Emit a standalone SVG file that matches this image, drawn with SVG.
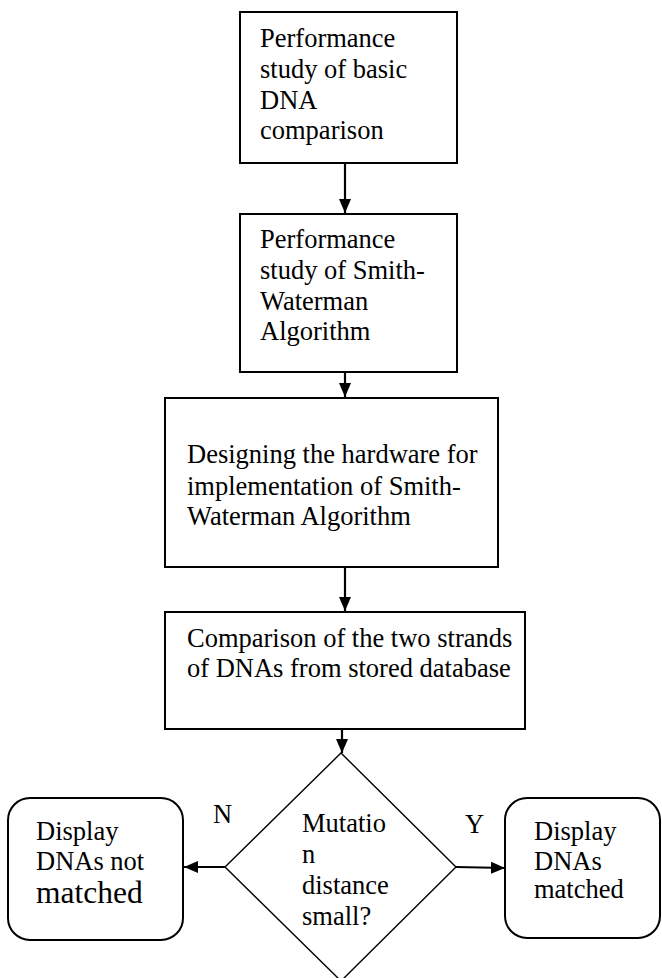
<svg xmlns="http://www.w3.org/2000/svg" width="662" height="978" viewBox="0 0 662 978" font-family="'Liberation Serif', 'Times New Roman', serif">
<defs>
<marker id="ah" markerWidth="14" markerHeight="12" refX="14" refY="6" orient="auto" markerUnits="userSpaceOnUse">
<path d="M0,0 L14,6 L0,12 Z" fill="#000"/>
</marker>
<style>
.box{fill:#fff;stroke:#000;stroke-width:2}
.dia{fill:#fff;stroke:#000;stroke-width:1.4}
.t{font-size:26.5px;fill:#000}
.big{font-size:31.5px}
.c{stroke:#000;stroke-width:2.2;fill:none}
</style>
</defs>
<rect width="662" height="978" fill="#fff"/>
<g id="connectors">
<line class="c" x1="345" y1="164" x2="345" y2="213" marker-end="url(#ah)"/>
<line class="c" x1="345" y1="373" x2="345" y2="397" marker-end="url(#ah)"/>
<line class="c" x1="345" y1="568" x2="345" y2="611" marker-end="url(#ah)"/>
<line class="c" x1="342" y1="730" x2="342" y2="753" marker-end="url(#ah)"/>
<line class="c" x1="225" y1="867" x2="184" y2="867" marker-end="url(#ah)"/>
<line class="c" x1="456" y1="867" x2="505" y2="868" marker-end="url(#ah)"/>
</g>
<g id="n1">
<rect class="box" x="240" y="12" width="217" height="151"/>
<text class="t" x="260" y="47">Performance</text>
<text class="t" x="260" y="78">study of basic</text>
<text class="t" x="260" y="109">DNA</text>
<text class="t" x="260" y="139">comparison</text>
</g>
<g id="n2">
<rect class="box" x="240" y="214" width="217" height="158"/>
<text class="t" x="260" y="248">Performance</text>
<text class="t" x="260" y="279">study of Smith-</text>
<text class="t" x="260" y="310">Waterman</text>
<text class="t" x="260" y="340">Algorithm</text>
</g>
<g id="n3">
<rect class="box" x="165" y="398" width="333" height="169"/>
<text class="t" x="187" y="463">Designing the hardware for</text>
<text class="t" x="187" y="495">implementation of Smith-</text>
<text class="t" x="187" y="525">Waterman Algorithm</text>
</g>
<g id="n4">
<rect class="box" x="165" y="612" width="360" height="117"/>
<text class="t" x="187" y="647">Comparison of the two strands</text>
<text class="t" x="187" y="677">of DNAs from stored database</text>
</g>
<g id="n5">
<polygon class="dia" points="341,753 456,867 341,981 225,867"/>
<text class="t" x="302" y="832">Mutatio</text>
<text class="t" x="302" y="863">n</text>
<text class="t" x="302" y="894">distance</text>
<text class="t" x="302" y="925">small?</text>
</g>
<g id="n6">
<rect class="box" x="8" y="798" width="175" height="142" rx="22" ry="22"/>
<text class="t" x="36" y="840">Display</text>
<text class="t" x="36" y="870">DNAs not</text>
<text class="t big" x="36" y="903">matched</text>
</g>
<g id="n7">
<rect class="box" x="505" y="798" width="155" height="140" rx="22" ry="22"/>
<text class="t" x="534" y="840">Display</text>
<text class="t" x="534" y="870">DNAs</text>
<text class="t" x="534" y="898">matched</text>
</g>
<g id="labels">
<text class="t" x="213" y="823">N</text>
<text class="t" x="465" y="833">Y</text>
</g>
</svg>
